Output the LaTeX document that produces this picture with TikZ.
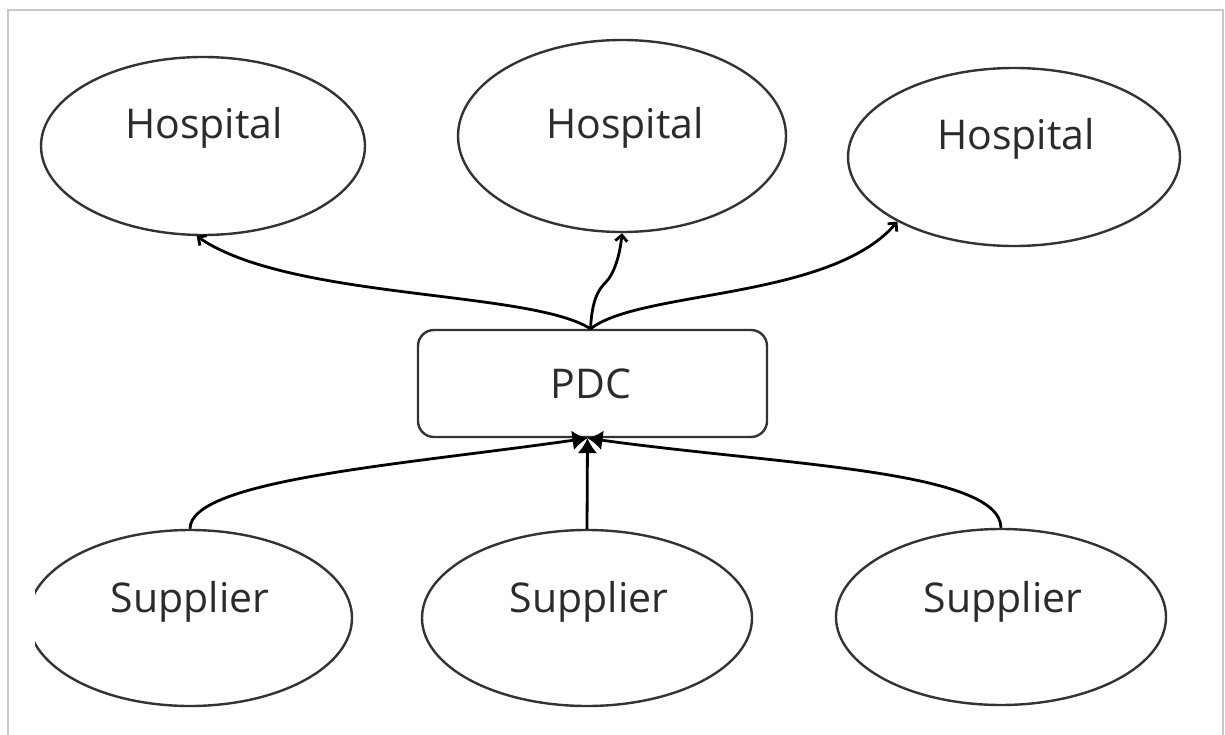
\documentclass[tikz,border=0pt]{standalone}
\usepackage{fontspec}
\setmainfont{Open Sans}
\usetikzlibrary{arrows.meta,shapes.geometric,calc}
\definecolor{inkline}{HTML}{333333}
\definecolor{inktext}{HTML}{2B2B2B}
\definecolor{framegray}{HTML}{C8C8C8}
\tikzset{
  oval/.style={ellipse, draw=inkline, line width=2.4pt, inner sep=0pt},
  pdcbox/.style={rectangle, rounded corners=16pt, draw=inkline, line width=2.4pt, inner sep=0pt,
    minimum width=349pt, minimum height=107pt},
  lbl/.style={text=inktext, font=\fontsize{41}{41}\selectfont, inner sep=0pt, anchor=base},
  outlink/.style={draw=black, line width=2.8pt, -{Straight Barb[length=6pt,width=12pt]}},
  inlink/.style={draw=black, line width=2.8pt, -{Latex[length=15pt,width=20pt]}}
}
\begin{document}
\begin{tikzpicture}[x=1pt,y=-1pt]
  % page and frame
  \fill[white] (0,0) rectangle (1225,735);
  \useasboundingbox (0,0) rectangle (1225,735);
  \draw[framegray, line width=2pt] (8,735) -- (8,10) -- (1223,10) -- (1223,735);

  % hospitals
  \node[oval, minimum width=324pt, minimum height=178pt] (h1) at (203,146) {};
  \node[oval, minimum width=328pt, minimum height=192pt] (h2) at (622,136) {};
  \node[oval, minimum width=332pt, minimum height=178pt] (h3) at (1014,157) {};
  \node[lbl] (h1t) at (204,139) {Hospital};
  \node[lbl] (h2t) at (625,139) {Hospital};
  \node[lbl] (h3t) at (1016,150) {Hospital};

  % distribution centre
  \node[pdcbox] (pdc) at (592.5,383.5) {};
  \node[lbl] (pdct) at (591,398) {PDC};

  % suppliers (the leftmost one runs past the frame)
  \begin{scope}
    \clip (35,0) rectangle (1225,735);
    \node[oval, minimum width=324pt, minimum height=176pt] (s1) at (190,618) {};
  \end{scope}
  \node[oval, minimum width=330pt, minimum height=176pt] (s2) at (587,618) {};
  \node[oval, minimum width=330pt, minimum height=176pt] (s3) at (1001,617) {};
  \node[lbl] (s1t) at (190,612) {Supplier};
  \node[lbl] (s2t) at (589,612) {Supplier};
  \node[lbl] (s3t) at (1003,612) {Supplier};

  % outgoing deliveries
  \coordinate (pout) at ($(pdc.north)+(-2,0)$);
  \draw[outlink] (pout) .. controls (530,290) and (290,300) .. (h1.266);
  \draw[outlink] (pout) .. controls (592,300) and (598,290) .. (606,282)
                        .. controls (614,274) and (620,255) .. (h2.south);
  \draw[outlink] (pout) .. controls (640,290) and (830,300) .. (h3.209);

  % incoming supplies
  \coordinate (pin) at ($(pdc.south)+(-5,0)$);
  \draw[inlink] (s1.north) .. controls (190,480) and (400,465) .. (pin);
  \draw[inlink] (s2.north) -- (pin);
  \draw[inlink] (s3.north) .. controls (1000,470) and (780,465) .. (pin);
\end{tikzpicture}
\end{document}
